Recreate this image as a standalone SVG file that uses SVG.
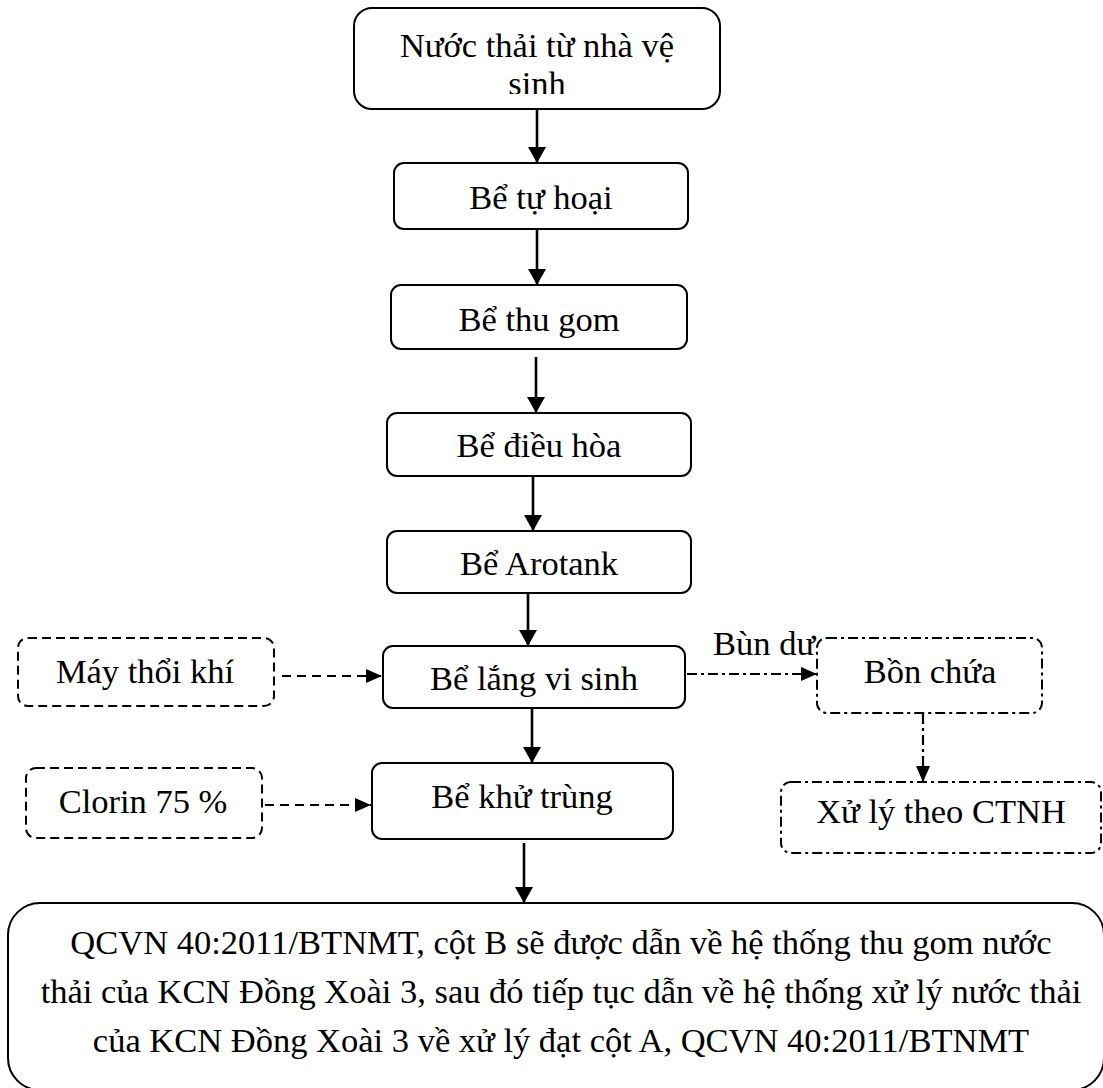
<svg xmlns="http://www.w3.org/2000/svg" width="1103" height="1088" viewBox="0 0 1103 1088">
  <style>
    .box { fill: #ffffff; stroke: #000000; stroke-width: 2; }
    .dash { fill: #ffffff; stroke: #000000; stroke-width: 2; stroke-dasharray: 9 5; }
    .dashdot { fill: #ffffff; stroke: #000000; stroke-width: 2; stroke-dasharray: 10 4 3 4; }
    .t { font-family: "Liberation Serif", "Times New Roman", serif; font-size: 34.5px; fill: #000000; text-anchor: middle; }
    .tl { font-family: "Liberation Serif", "Times New Roman", serif; font-size: 34.5px; fill: #000000; }
    .flow { stroke: #000000; stroke-width: 2.6; fill: none; marker-end: url(#arrow); }
    .flow-dash { stroke: #000000; stroke-width: 2.2; fill: none; stroke-dasharray: 9 6; marker-end: url(#arrow-s); }
    .flow-dashdot { stroke: #000000; stroke-width: 2.2; fill: none; stroke-dasharray: 10 4 3 4; marker-end: url(#arrow-s); }
  </style>
  <defs>
    <marker id="arrow" markerUnits="userSpaceOnUse" markerWidth="16" markerHeight="18" refX="16" refY="9" orient="auto">
      <path d="M0,0 L16,9 L0,18 Z" fill="#000000"/>
    </marker>
    <marker id="arrow-s" markerUnits="userSpaceOnUse" markerWidth="16" markerHeight="14" refX="16" refY="7" orient="auto">
      <path d="M0,0 L16,7 L0,14 Z" fill="#000000"/>
    </marker>
    <clipPath id="clip-top">
      <rect x="354" y="8" width="366" height="86"/>
    </clipPath>
  </defs>

  <rect width="1103" height="1088" fill="#ffffff"/>

  <!-- connectors -->
  <g id="connectors">
    <line class="flow" x1="537" y1="109" x2="537" y2="163"/>
    <line class="flow" x1="537" y1="229" x2="537" y2="285"/>
    <line class="flow" x1="536" y1="357" x2="536" y2="413"/>
    <line class="flow" x1="533" y1="476" x2="533" y2="531"/>
    <line class="flow" x1="528" y1="593" x2="528" y2="646"/>
    <line class="flow" x1="532" y1="708" x2="532" y2="763"/>
    <line class="flow" x1="524" y1="843" x2="524" y2="903"/>
    <line class="flow-dash" x1="282" y1="676" x2="382" y2="676"/>
    <line class="flow-dash" x1="265" y1="805" x2="371" y2="805"/>
    <line class="flow-dashdot" x1="687" y1="674" x2="817" y2="674"/>
    <line class="flow-dashdot" x1="923" y1="714" x2="923" y2="782"/>
    <text class="tl" x="713" y="655">Bùn dư</text>
  </g>

  <!-- main treatment line -->
  <g id="node-nuoc-thai">
    <rect class="box" x="354" y="8" width="366" height="101" rx="18"/>
    <text class="t" x="537" y="57">Nước thải từ nhà vệ</text>
    <text class="t" x="537" y="95" clip-path="url(#clip-top)">sinh</text>
  </g>
  <g id="node-tu-hoai">
    <rect class="box" x="394" y="163" width="294" height="66" rx="10"/>
    <text class="t" x="541" y="209">Bể tự hoại</text>
  </g>
  <g id="node-thu-gom">
    <rect class="box" x="391" y="285" width="296" height="64" rx="10"/>
    <text class="t" x="539" y="331">Bể thu gom</text>
  </g>
  <g id="node-dieu-hoa">
    <rect class="box" x="387" y="413" width="304" height="63" rx="10"/>
    <text class="t" x="539" y="457">Bể điều hòa</text>
  </g>
  <g id="node-arotank">
    <rect class="box" x="387" y="531" width="304" height="62" rx="10"/>
    <text class="t" x="539" y="575">Bể Arotank</text>
  </g>
  <g id="node-lang">
    <rect class="box" x="383" y="646" width="302" height="62" rx="10"/>
    <text class="t" x="534" y="690">Bể lắng vi sinh</text>
  </g>
  <g id="node-khu-trung">
    <rect class="box" x="372" y="763" width="301" height="76" rx="10"/>
    <text class="t" x="522" y="808">Bể khử trùng</text>
  </g>

  <!-- inputs -->
  <g id="node-may-thoi-khi">
    <rect class="dash" x="18" y="638" width="256" height="68" rx="10"/>
    <text class="t" x="145" y="683">Máy thổi khí</text>
  </g>
  <g id="node-clorin">
    <rect class="dash" x="26" y="768" width="236" height="70" rx="10"/>
    <text class="t" x="143" y="813">Clorin 75 %</text>
  </g>

  <!-- sludge line -->
  <g id="node-bon-chua">
    <rect class="dashdot" x="817" y="638" width="225" height="75" rx="10"/>
    <text class="t" x="930" y="683">Bồn chứa</text>
  </g>
  <g id="node-ctnh">
    <rect class="dashdot" x="781" y="782" width="320" height="71" rx="10"/>
    <text class="t" x="941" y="823">Xử lý theo CTNH</text>
  </g>

  <!-- discharge -->
  <g id="node-xa-thai">
    <rect class="box" x="8" y="903" width="1096" height="187" rx="32"/>
    <text class="t" x="561" y="954">QCVN 40:2011/BTNMT, cột B sẽ được dẫn về hệ thống thu gom nước</text>
    <text class="t" x="561" y="1003">thải của KCN Đồng Xoài 3, sau đó tiếp tục dẫn về hệ thống xử lý nước thải</text>
    <text class="t" x="561" y="1052">của KCN Đồng Xoài 3 về xử lý đạt cột A, QCVN 40:2011/BTNMT</text>
  </g>
</svg>
